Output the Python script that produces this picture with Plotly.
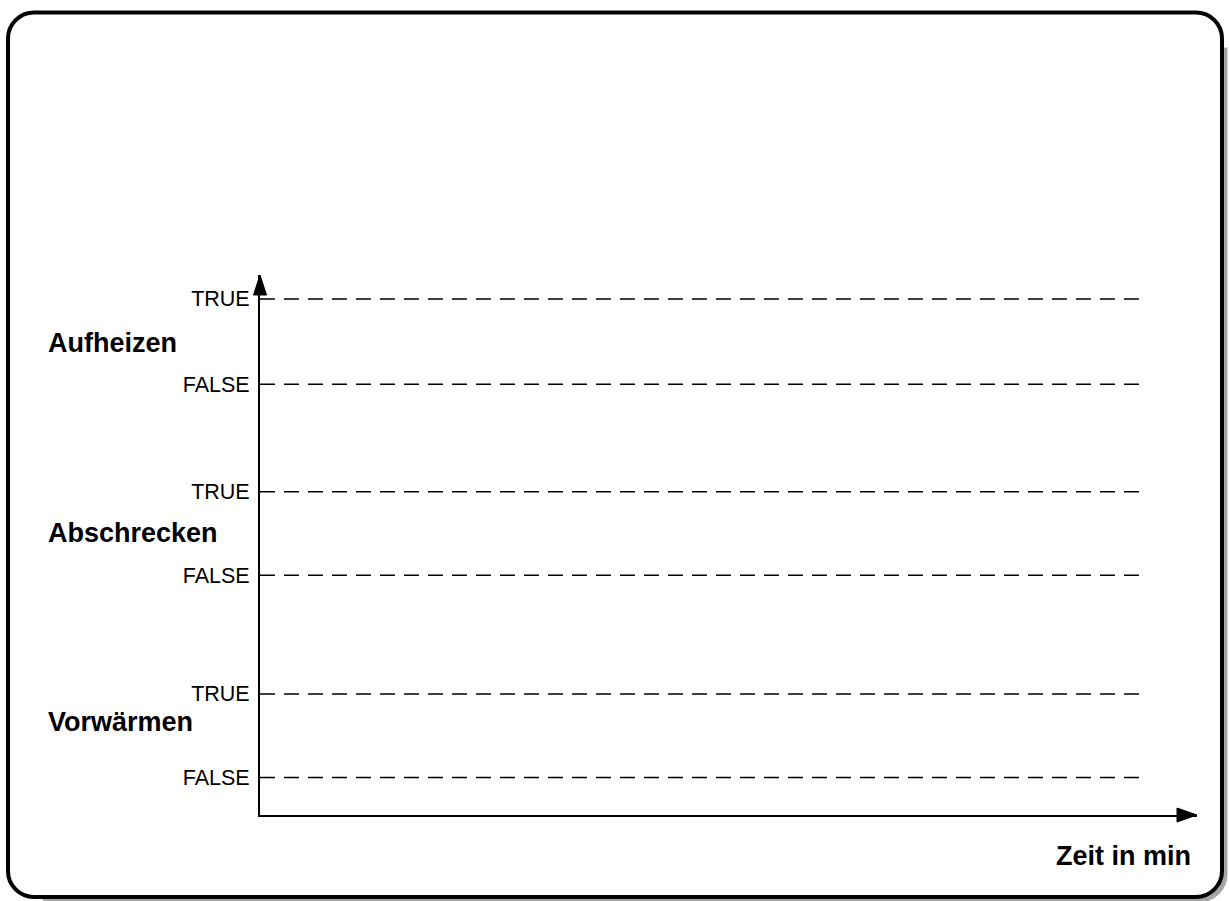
import plotly.graph_objects as go

# ---------------- data ----------------
signals = ["Vorwärmen", "Abschrecken", "Aufheizen"]
false_levels = [0.45, 2.87, 5.16]
true_levels = [1.45, 3.87, 6.18]
signal_label_y = [1.11, 3.38, 5.65]
state_labels = ["FALSE", "TRUE"]
time_range = [0, 100]
line_time = [0, 93.9]
y_range = [0, 6.467]
x_title = "Zeit in min"

# ---------------- layout (pixels) ----------------
W, H = 1229, 901
AX_LEFT, AX_RIGHT = 260, 1197
AX_BOTTOM, AX_TOP = 815, 275
FONT = "Liberation Sans, Arial, Helvetica, sans-serif"


def px(x):
    return x / W


def py(y):
    return 1 - y / H


fig = go.Figure()

tickvals, ticktext = [], []
for f, t in zip(false_levels, true_levels):
    for lvl, txt in ((f, state_labels[0]), (t, state_labels[1])):
        fig.add_trace(go.Scatter(
            x=line_time, y=[lvl, lvl], mode="lines",
            line=dict(color="black", width=1.5, dash="15px,9px"),
            showlegend=False, hoverinfo="skip"))
        tickvals.append(lvl)
        ticktext.append(txt)


def rounded_rect(x0, y0, x1, y1, r):
    k = 0.5523 * r
    X, Y = px, py
    p = f"M{X(x0 + r)},{Y(y0)} L{X(x1 - r)},{Y(y0)} "
    p += f"C{X(x1 - r + k)},{Y(y0)} {X(x1)},{Y(y0 + r - k)} {X(x1)},{Y(y0 + r)} "
    p += f"L{X(x1)},{Y(y1 - r)} "
    p += f"C{X(x1)},{Y(y1 - r + k)} {X(x1 - r + k)},{Y(y1)} {X(x1 - r)},{Y(y1)} "
    p += f"L{X(x0 + r)},{Y(y1)} "
    p += f"C{X(x0 + r - k)},{Y(y1)} {X(x0)},{Y(y1 - r + k)} {X(x0)},{Y(y1 - r)} "
    p += f"L{X(x0)},{Y(y0 + r)} "
    p += f"C{X(x0)},{Y(y0 + r - k)} {X(x0 + r - k)},{Y(y0)} {X(x0 + r)},{Y(y0)} Z"
    return p


def shadow_path(x0, y0, x1, y1, r, d):
    # only right and bottom sides, offset by d
    k = 0.5523 * r
    X = lambda v: px(v + d)
    Y = lambda v: py(v + d)
    p = f"M{X(x1)},{Y(y0 + r + 6)} L{X(x1)},{Y(y1 - r)} "
    p += f"C{X(x1)},{Y(y1 - r + k)} {X(x1 - r + k)},{Y(y1)} {X(x1 - r)},{Y(y1)} "
    p += f"L{X(x0 + r + 6)},{Y(y1)}"
    return p


BX0, BY0, BX1, BY1, BR = 8, 12.5, 1222, 897, 26

shapes = [
    dict(type="path", xref="paper", yref="paper", layer="below",
         path=shadow_path(BX0, BY0, BX1, BY1, BR, 3),
         line=dict(color="rgba(0,0,0,0.35)", width=5)),
    dict(type="path", xref="paper", yref="paper",
         path=rounded_rect(BX0, BY0, BX1, BY1, BR),
         line=dict(color="black", width=4), fillcolor="rgba(0,0,0,0)"),
    # axis arrowheads
    dict(type="path", xref="paper", yref="paper",
         path=f"M{px(AX_LEFT)},{py(AX_TOP)} L{px(AX_LEFT - 6.5)},{py(AX_TOP + 20)} "
              f"L{px(AX_LEFT + 6.5)},{py(AX_TOP + 20)} Z",
         line=dict(color="black", width=1), fillcolor="black"),
    dict(type="path", xref="paper", yref="paper",
         path=f"M{px(AX_RIGHT)},{py(AX_BOTTOM)} L{px(AX_RIGHT - 20)},{py(AX_BOTTOM - 7)} "
              f"L{px(AX_RIGHT - 20)},{py(AX_BOTTOM + 7)} Z",
         line=dict(color="black", width=1), fillcolor="black"),
]

annotations = []
for name, ly in zip(signals, signal_label_y):
    annotations.append(dict(
        text=f"<b>{name}</b>", xref="paper", yref="y", x=px(46), y=ly,
        xanchor="left", yanchor="middle", showarrow=False,
        font=dict(family=FONT, size=27, color="black")))
annotations.append(dict(
    text=f"<b>{x_title}</b>", xref="paper", yref="paper", x=px(1193), y=py(856),
    xanchor="right", yanchor="middle", showarrow=False,
    font=dict(family=FONT, size=27, color="black")))

fig.update_layout(
    width=W, height=H, margin=dict(l=0, r=0, t=0, b=0),
    paper_bgcolor="white", plot_bgcolor="white",
    showlegend=False,
    xaxis=dict(domain=[px(AX_LEFT), px(AX_RIGHT)], range=time_range,
               showline=True, linewidth=2, linecolor="black",
               showgrid=False, zeroline=False, showticklabels=False, ticks=""),
    yaxis=dict(domain=[py(AX_BOTTOM), py(AX_TOP)], range=y_range,
               showline=True, linewidth=2, linecolor="black",
               showgrid=False, zeroline=False, ticks="",
               tickvals=tickvals, ticktext=ticktext, ticklabelstandoff=4,
               tickfont=dict(family=FONT, size=21.5, color="black")),
    shapes=shapes, annotations=annotations,
)

fig.write_html("out.html", config={"displayModeBar": False},
               post_script="document.body.style.margin='0';document.body.style.overflow='hidden';")
